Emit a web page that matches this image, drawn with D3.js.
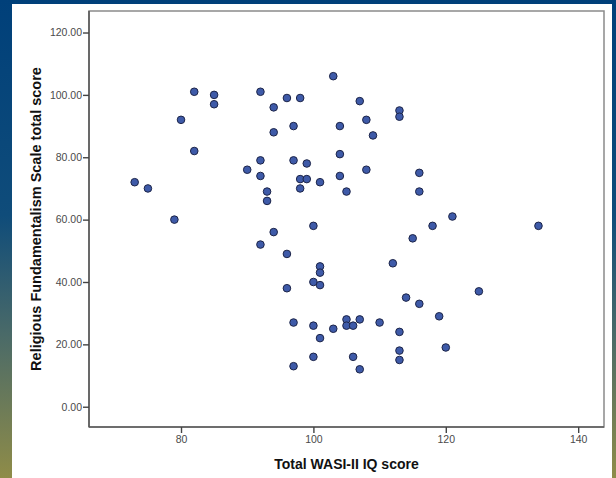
<!DOCTYPE html>
<html>
<head>
<meta charset="utf-8">
<script src="https://cdn.jsdelivr.net/npm/d3@7/dist/d3.min.js"></script>
<style>
  html, body { margin: 0; padding: 0; }
  svg { display: block; }
</style>
</head>
<body>
<div id="chart"></div>
<script>
  // WASI-II IQ (x) vs Religious Fundamentalism (y)
  const iq = [73, 75, 79, 80, 82, 82, 85, 85, 90, 92, 92, 92, 93, 93, 92,
              94, 94, 94, 96, 96, 96, 97, 97, 97, 97, 98, 98, 98, 99, 99,
              100, 100, 100, 100, 101, 101, 101, 101, 101, 103, 103, 104, 104, 104, 105,
              105, 105, 106, 106, 107, 107, 107, 108, 108, 109, 110, 112, 113, 113, 113,
              113, 113, 114, 115, 116, 116, 116, 118, 119, 120, 121, 125, 134];
  const rf = [72, 70, 60, 92, 101, 82, 100, 97, 76, 101, 79, 74, 69, 66, 52,
              96, 88, 56, 99, 49, 38, 90, 79, 27, 13, 99, 73, 70, 78, 73,
              58, 40, 26, 16, 72, 45, 43, 39, 22, 106, 25, 90, 81, 74, 69,
              28, 26, 26, 16, 98, 28, 12, 92, 76, 87, 27, 46, 95, 93, 24,
              18, 15, 35, 54, 75, 69, 33, 58, 29, 19, 61, 37, 58];

  const xTicks = [80, 100, 120, 140];
  const yTicks = [0, 20, 40, 60, 80, 100, 120];

  const W = 616, H = 478;
  const plot = { left: 89, right: 604, top: 11, bottom: 427 };

  const svg = d3.select("#chart").append("svg")
      .attr("width", W)
      .attr("height", H)
      .style("font-family", "'Liberation Sans', Arial, sans-serif");

  const grad = svg.append("defs").append("linearGradient")
      .attr("id", "bg")
      .attr("x1", 0).attr("y1", 0).attr("x2", 0).attr("y2", 1);
  grad.append("stop").attr("offset", "0%").attr("stop-color", "#00407a");
  grad.append("stop").attr("offset", "45%").attr("stop-color", "#0f4c7a");
  grad.append("stop").attr("offset", "70%").attr("stop-color", "#4a6a68");
  grad.append("stop").attr("offset", "100%").attr("stop-color", "#8f8c48");

  svg.append("rect").attr("width", W).attr("height", H).attr("fill", "url(#bg)");
  svg.append("rect")
      .attr("x", 12).attr("y", 4)
      .attr("width", 600).attr("height", H - 4)
      .attr("fill", "#fff");

  const x = d3.scaleLinear().domain([66.1, 143.9]).range([plot.left, plot.right]);
  const y = d3.scaleLinear().domain([-6.5, 126.9]).range([plot.bottom, plot.top]);

  // frame
  svg.append("rect")
      .attr("x", plot.left).attr("y", plot.top)
      .attr("width", plot.right - plot.left)
      .attr("height", plot.bottom - plot.top)
      .attr("fill", "none")
      .attr("stroke", "#8a8a8a")
      .attr("stroke-width", 1.5);

  const xAxis = svg.append("g")
      .attr("transform", `translate(0,${plot.bottom})`)
      .call(d3.axisBottom(x).tickValues(xTicks).tickSize(6).tickPadding(3).tickFormat(d3.format("d")));
  const yAxis = svg.append("g")
      .attr("transform", `translate(${plot.left},0)`)
      .call(d3.axisLeft(y).tickValues(yTicks).tickSize(6).tickPadding(1).tickFormat(d3.format(".2f")));

  [xAxis, yAxis].forEach(g => {
    g.select(".domain").attr("stroke", "#5a5a5a").attr("stroke-width", 1.6);
    g.selectAll(".tick line").attr("stroke", "#444").attr("stroke-width", 1.4);
    g.selectAll(".tick text")
        .attr("fill", "#4a4a4a")
        .style("font-size", "10.5px")
        .style("font-family", "'Liberation Sans', Arial, sans-serif");
  });
  yAxis.select(".domain").attr("d", `M0,${plot.top}V${plot.bottom}`);
  xAxis.select(".domain").attr("d", `M${plot.left},0H${plot.right}`);

  // points
  svg.append("g")
      .selectAll("circle")
      .data(iq.map((d, i) => [d, rf[i]]))
      .join("circle")
      .attr("cx", d => x(d[0]))
      .attr("cy", d => y(d[1]))
      .attr("r", 3.8)
      .attr("fill", "#3e5aa8")
      .attr("stroke", "#1c2448")
      .attr("stroke-width", 1);

  svg.append("text")
      .attr("x", (plot.left + plot.right) / 2)
      .attr("y", 469)
      .attr("text-anchor", "middle")
      .style("font-size", "14px")
      .style("font-weight", "bold")
      .attr("fill", "#111")
      .text("Total WASI-II IQ score");

  svg.append("text")
      .attr("transform", `translate(41,${(plot.top + plot.bottom) / 2}) rotate(-90)`)
      .attr("text-anchor", "middle")
      .style("font-size", "14.5px")
      .style("font-weight", "bold")
      .attr("fill", "#111")
      .text("Religious Fundamentalism Scale total score");
</script>
</body>
</html>
